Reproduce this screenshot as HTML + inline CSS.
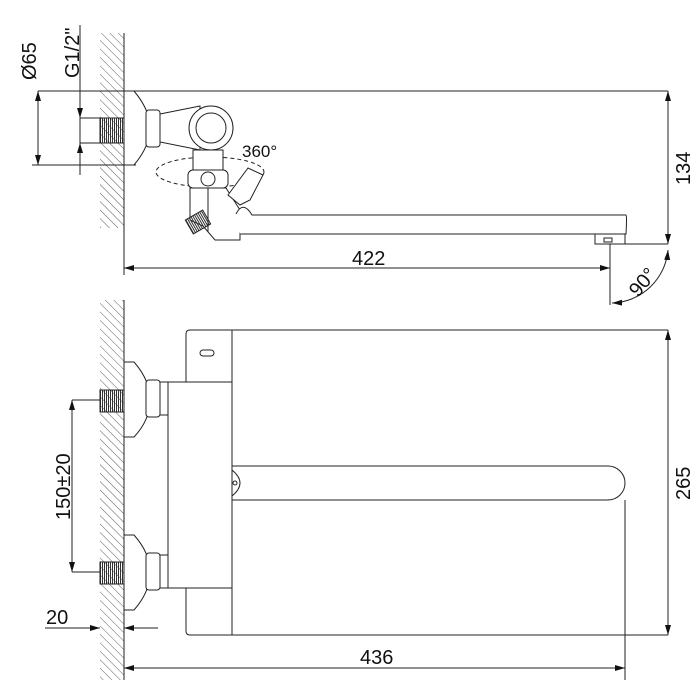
<!DOCTYPE html>
<html><head><style>body{margin:0;background:#fff}svg{display:block}text{font-family:"Liberation Sans",sans-serif;fill:#111}</style></head><body>
<svg width="700" height="700" viewBox="0 0 700 700" xmlns="http://www.w3.org/2000/svg">
<defs>
<pattern id="h" width="6" height="6" patternUnits="userSpaceOnUse" patternTransform="rotate(-45)"><line x1="0" y1="0" x2="0" y2="6" stroke="#333" stroke-width="0.8"/></pattern>
<marker id="a" viewBox="0 0 10 6" refX="10" refY="3" markerWidth="10" markerHeight="6" orient="auto-start-reverse" markerUnits="userSpaceOnUse"><path d="M0,0L10,3L0,6z" fill="#111"/></marker>
<pattern id="t" width="2" height="4" patternUnits="userSpaceOnUse"><rect width="1" height="4" fill="#333"/></pattern>
</defs>
<g fill="none" stroke="#222" stroke-width="1">
<!-- TOP VIEW -->
<rect x="100" y="33" width="24" height="195" fill="url(#h)" stroke="none"/>
<line x1="124" y1="33" x2="124" y2="275"/>
<line x1="38" y1="91" x2="668" y2="91"/>
<line x1="32" y1="165" x2="136" y2="165"/>
<line x1="38" y1="91" x2="38" y2="165" marker-start="url(#a)" marker-end="url(#a)"/>
<line x1="80" y1="25" x2="80" y2="175"/>
<line x1="80" y1="98" x2="80" y2="118" marker-end="url(#a)"/>
<line x1="80" y1="163" x2="80" y2="143" marker-end="url(#a)"/>
<line x1="80" y1="118" x2="100" y2="118"/><line x1="80" y1="143" x2="100" y2="143"/>
<rect x="100" y="118" width="24" height="25" fill="url(#t)"/>
<path d="M124,91 L134,91 Q150,110 150,128 Q150,146 134,165 L124,165Z" fill="#fff"/>
<rect x="146" y="110" width="14" height="37" rx="3" fill="#fff"/>
<path d="M160,114 L200,106 L200,150 L160,142Z" fill="#fff"/>
<circle cx="211" cy="128" r="22" fill="#fff"/><circle cx="211" cy="128" r="15"/>
<ellipse cx="210" cy="172" rx="54" ry="15" stroke-dasharray="4,3"/>
<rect x="193" y="150" width="30" height="20" fill="#fff"/>
<rect x="188" y="170" width="40" height="18" rx="5" fill="#fff"/>
<circle cx="208" cy="179" r="7"/>
<path d="M190,188 L226,188 L240,210 L240,240 L215,240 L203,226 L190,220Z" fill="#fff"/>
<line x1="208" y1="188" x2="208" y2="232"/>
<rect x="188" y="214" width="20" height="16" fill="url(#t)" transform="rotate(-30 198 222)"/>
<path d="M228,195 L248,168 L263,175 L250,200 L240,205Z" fill="#fff"/>
<path d="M236,214 Q243,200 252,215 L626,215 Q627,215 626,234 L240,234" fill="#fff"/>
<rect x="595" y="234" width="30" height="10" fill="#fff"/>
<rect x="604" y="238" width="8" height="4"/>
<line x1="625" y1="244" x2="668" y2="244"/>
<line x1="668" y1="91" x2="668" y2="244" marker-start="url(#a)" marker-end="url(#a)"/>
<line x1="610" y1="244" x2="610" y2="305"/>
<line x1="124" y1="268" x2="610" y2="268" marker-start="url(#a)" marker-end="url(#a)"/>
<path d="M668,250 A58,58 0 0 1 612,303" marker-start="url(#a)" marker-end="url(#a)"/>
<!-- BOTTOM VIEW -->
<rect x="100" y="300" width="24" height="380" fill="url(#h)" stroke="none"/>
<line x1="124" y1="300" x2="124" y2="680"/>
<rect x="100" y="390" width="24" height="22" fill="url(#t)"/>
<rect x="100" y="562" width="24" height="22" fill="url(#t)"/>
<line x1="72" y1="400" x2="100" y2="400"/><line x1="72" y1="572" x2="100" y2="572"/>
<line x1="72" y1="400" x2="72" y2="572" marker-start="url(#a)" marker-end="url(#a)"/>
<path d="M124,362 L134,362 Q150,380 150,400 Q150,420 134,437 L124,437Z" fill="#fff"/>
<path d="M124,535 L134,535 Q150,553 150,572 Q150,592 134,610 L124,610Z" fill="#fff"/>
<rect x="146" y="380" width="14" height="37" rx="3" fill="#fff"/>
<rect x="146" y="553" width="14" height="37" rx="3" fill="#fff"/>
<rect x="160" y="382" width="8" height="33"/><rect x="160" y="555" width="8" height="33"/>
<rect x="168" y="382" width="64" height="206" fill="#fff"/>
<path d="M232,330 L232,382 L186,382 L186,334 Q186,330 190,330Z" fill="#fff"/>
<rect x="200" y="350" width="14" height="6" rx="3"/>
<path d="M232,588 L232,635 L190,635 Q186,635 186,631 L186,588Z" fill="#fff"/>
<line x1="232" y1="330" x2="668" y2="330"/>
<line x1="232" y1="635" x2="668" y2="635"/>
<line x1="668" y1="330" x2="668" y2="635" marker-start="url(#a)" marker-end="url(#a)"/>
<path d="M232,466 L608,466 A17,17 0 0 1 608,500 L232,500"/>
<path d="M232,470 Q248,483 232,496"/><circle cx="235" cy="483" r="2"/>
<line x1="124" y1="645" x2="124" y2="680"/><line x1="625" y1="500" x2="625" y2="680"/>
<line x1="124" y1="668" x2="625" y2="668" marker-start="url(#a)" marker-end="url(#a)"/>
<line x1="45" y1="628" x2="100" y2="628" marker-end="url(#a)"/>
<line x1="158" y1="628" x2="124" y2="628" marker-end="url(#a)"/>
</g>
<g font-size="20">
<text x="352" y="265">422</text>
<text x="360" y="664">436</text>
<text x="242" y="157" font-size="17">360°</text>
<text x="46" y="624">20</text>
<text transform="translate(690,185) rotate(-90)">134</text>
<text transform="translate(690,500) rotate(-90)">265</text>
<text transform="translate(70,520) rotate(-90)">150±20</text>
<text transform="translate(36,80) rotate(-90)">Ø65</text>
<text transform="translate(79,78) rotate(-90)">G1/2"</text>
<text transform="translate(638,298) rotate(-50)">90°</text>
</g>
</svg>
</body></html>
